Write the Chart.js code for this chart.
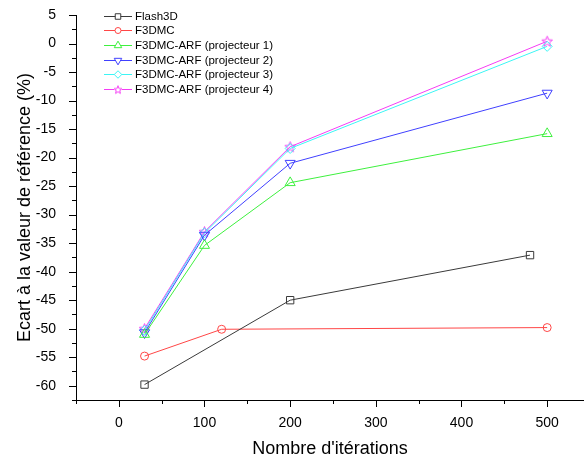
<!DOCTYPE html>
<html>
<head>
<meta charset="utf-8">
<script src="https://cdn.jsdelivr.net/npm/chart.js@4/dist/chart.umd.min.js"></script>
<style>
  html, body { margin: 0; padding: 0; background: #fff; }
  #wrap { width: 584px; height: 462px; position: relative; }
</style>
</head>
<body>
<div id="wrap"><canvas id="c" width="584" height="462"></canvas></div>
<script>
// ---- Data ----
const seriesNames = [
  "Flash3D",
  "F3DMC",
  "F3DMC-ARF (projecteur 1)",
  "F3DMC-ARF (projecteur 2)",
  "F3DMC-ARF (projecteur 3)",
  "F3DMC-ARF (projecteur 4)"
];
const flash3dX = [30, 200, 480];
const flash3dY = [-59.8, -45.0, -37.1];
const f3dmcX = [30, 120, 500];
const f3dmcY = [-54.8, -50.1, -49.8];
const arfX = [30, 100, 200, 500];
const arf1Y = [-51.0, -35.4, -24.4, -15.8];
const arf2Y = [-50.7, -33.6, -21.0, -8.7];
const arf3Y = [-50.3, -33.2, -18.4, -0.5];
const arf4Y = [-50.0, -33.0, -18.1, 0.4];

// ---- Tick values ----
const xTickValues = [0, 100, 200, 300, 400, 500];
const xMinorTickValues = [-50, 50, 150, 250, 350, 450];
const yTickValues = [5, 0, -5, -10, -15, -20, -25, -30, -35, -40, -45, -50, -55, -60];
const yMinorTickValues = [2.5, -2.5, -7.5, -12.5, -17.5, -22.5, -27.5, -32.5, -37.5, -42.5, -47.5, -52.5, -57.5, -62.5];

const xTitle = "Nombre d'itérations";
const yTitle = "Ecart à la valeur de référence (%)";

const FONT = '"Liberation Sans", Arial, sans-serif';

function zip(xs, ys) { return xs.map((x, i) => ({ x: x, y: ys[i] })); }

function makeStar(outer, inner, color) {
  const s = Math.ceil(outer * 2 + 3);
  const cv = document.createElement('canvas');
  cv.width = s; cv.height = s;
  const c = cv.getContext('2d');
  const cx = s / 2, cy = s / 2 + 0.5;
  c.beginPath();
  for (let i = 0; i < 10; i++) {
    const r = i % 2 === 0 ? outer : inner;
    const a = -Math.PI / 2 + i * Math.PI / 5;
    const px = cx + r * Math.cos(a), py = cy + r * Math.sin(a);
    if (i === 0) c.moveTo(px, py); else c.lineTo(px, py);
  }
  c.closePath();
  c.strokeStyle = color; c.lineWidth = 1; c.stroke();
  return cv;
}

const colors = ['#3a3a3a', '#ff4646', '#3ef03e', '#4040ff', '#3cf5f5', '#f53cf5'];
const starBig = makeStar(5.6, 2.4, colors[5]);
const starSmall = makeStar(4.2, 1.8, colors[5]);

function ds(label, data, color, style, radius, rotation, legendStyle) {
  return {
    label: label, data: data,
    borderColor: color, backgroundColor: 'rgba(255,255,255,0)',
    borderWidth: 1,
    pointStyle: style, pointRadius: radius, pointRotation: rotation || 0,
    pointBorderColor: color, pointBackgroundColor: 'rgba(255,255,255,0)',
    pointBorderWidth: 1,
    tension: 0, fill: false, clip: false,
    legendStyle: legendStyle || style
  };
}

const datasets = [
  ds(seriesNames[0], zip(flash3dX, flash3dY), colors[0], 'rect', 5.2, 0),
  ds(seriesNames[1], zip(f3dmcX, f3dmcY), colors[1], 'circle', 4, 0),
  ds(seriesNames[2], zip(arfX, arf1Y), colors[2], 'triangle', 5.8, 0),
  ds(seriesNames[3], zip(arfX, arf2Y), colors[3], 'triangle', 5.8, 180),
  ds(seriesNames[4], zip(arfX, arf3Y), colors[4], 'rectRot', 5, 0),
  ds(seriesNames[5], zip(arfX, arf4Y), colors[5], starBig, 5, 0, starSmall)
];

const tickPlugin = {
  id: 'tickPlugin',
  afterDraw(chart) {
    const { ctx } = chart;
    const x = chart.scales.x, y = chart.scales.y;
    ctx.save();
    ctx.strokeStyle = '#000';
    ctx.lineWidth = 1;
    ctx.beginPath();
    const bx = chart.chartArea.bottom;
    const lx = chart.chartArea.left;
    xTickValues.forEach(v => { const p = Math.round(x.getPixelForValue(v)) + 0.5; ctx.moveTo(p, bx); ctx.lineTo(p, bx + 7); });
    xMinorTickValues.forEach(v => { const p = Math.round(x.getPixelForValue(v)) + 0.5; ctx.moveTo(p, bx); ctx.lineTo(p, bx + 4); });
    yTickValues.forEach(v => { const p = Math.round(y.getPixelForValue(v)) + 0.5; ctx.moveTo(lx, p); ctx.lineTo(lx - 7, p); });
    yMinorTickValues.forEach(v => { const p = Math.round(y.getPixelForValue(v)) + 0.5; ctx.moveTo(lx, p); ctx.lineTo(lx - 4, p); });
    ctx.stroke();
    ctx.restore();
  }
};

const legendPlugin = {
  id: 'lineLegend',
  afterDraw(chart) {
    const { ctx } = chart;
    const x0 = 104, x1 = 132, mx = 118, tx = 135, y0 = 15.5, dy = 14.7;
    ctx.save();
    ctx.font = '11.5px ' + FONT;
    ctx.textBaseline = 'middle';
    ctx.textAlign = 'left';
    chart.data.datasets.forEach((d, i) => {
      const yy = Math.round(y0 + i * dy) + 0.5;
      ctx.strokeStyle = d.borderColor;
      ctx.lineWidth = 1;
      ctx.beginPath(); ctx.moveTo(x0, yy); ctx.lineTo(x1, yy); ctx.stroke();
      const st = d.legendStyle;
      ctx.fillStyle = '#fff';
      if (st instanceof HTMLCanvasElement) {
        ctx.fillRect(mx - 4, yy - 4, 8, 8);
        Chart.helpers.drawPoint(ctx, { pointStyle: st, radius: 4, rotation: 0, borderWidth: 1 }, mx, yy);
      } else {
        ctx.save();
        ctx.strokeStyle = d.borderColor;
        ctx.fillStyle = '#fff';
        Chart.helpers.drawPoint(ctx, {
          pointStyle: st, radius: d.pointRadius * 0.75, rotation: d.pointRotation,
          borderWidth: 1
        }, mx, yy);
        ctx.restore();
      }
      ctx.fillStyle = '#000';
      ctx.fillText(d.label, tx, yy);
    });
    ctx.restore();
  }
};

new Chart(document.getElementById('c'), {
  type: 'line',
  data: { datasets: datasets },
  options: {
    responsive: false,
    animation: false,
    events: [],
    layout: { autoPadding: false, padding: { top: 15, right: 0, left: 0, bottom: 0 } },
    plugins: { legend: { display: false }, tooltip: { enabled: false } },
    scales: {
      x: {
        type: 'linear',
        min: -50, max: 543,
        grid: { display: false },
        border: { display: true, color: '#000', width: 1 },
        afterBuildTicks(s) { s.ticks = xTickValues.map(v => ({ value: v })); },
        afterFit(s) { s.height = 62; s.paddingLeft = 0; s.paddingRight = 0; },
        ticks: { color: '#000', font: { family: FONT, size: 14 }, padding: 7, maxRotation: 0, autoSkip: false },
        title: { display: true, text: xTitle, color: '#000', font: { family: FONT, size: 18 }, padding: { top: 4, bottom: 2 } }
      },
      y: {
        type: 'linear',
        min: -62.5, max: 5,
        grid: { display: false },
        border: { display: true, color: '#000', width: 1 },
        afterBuildTicks(s) { s.ticks = yTickValues.map(v => ({ value: v })); },
        afterFit(s) { s.width = 76; s.paddingTop = 0; s.paddingBottom = 0; },
        ticks: { color: '#000', font: { family: FONT, size: 14 }, padding: 12, autoSkip: false },
        title: { display: true, text: yTitle, color: '#000', font: { family: FONT, size: 18 }, padding: { top: 14, bottom: 4 } }
      }
    }
  },
  plugins: [tickPlugin, legendPlugin]
});
</script>
</body>
</html>
